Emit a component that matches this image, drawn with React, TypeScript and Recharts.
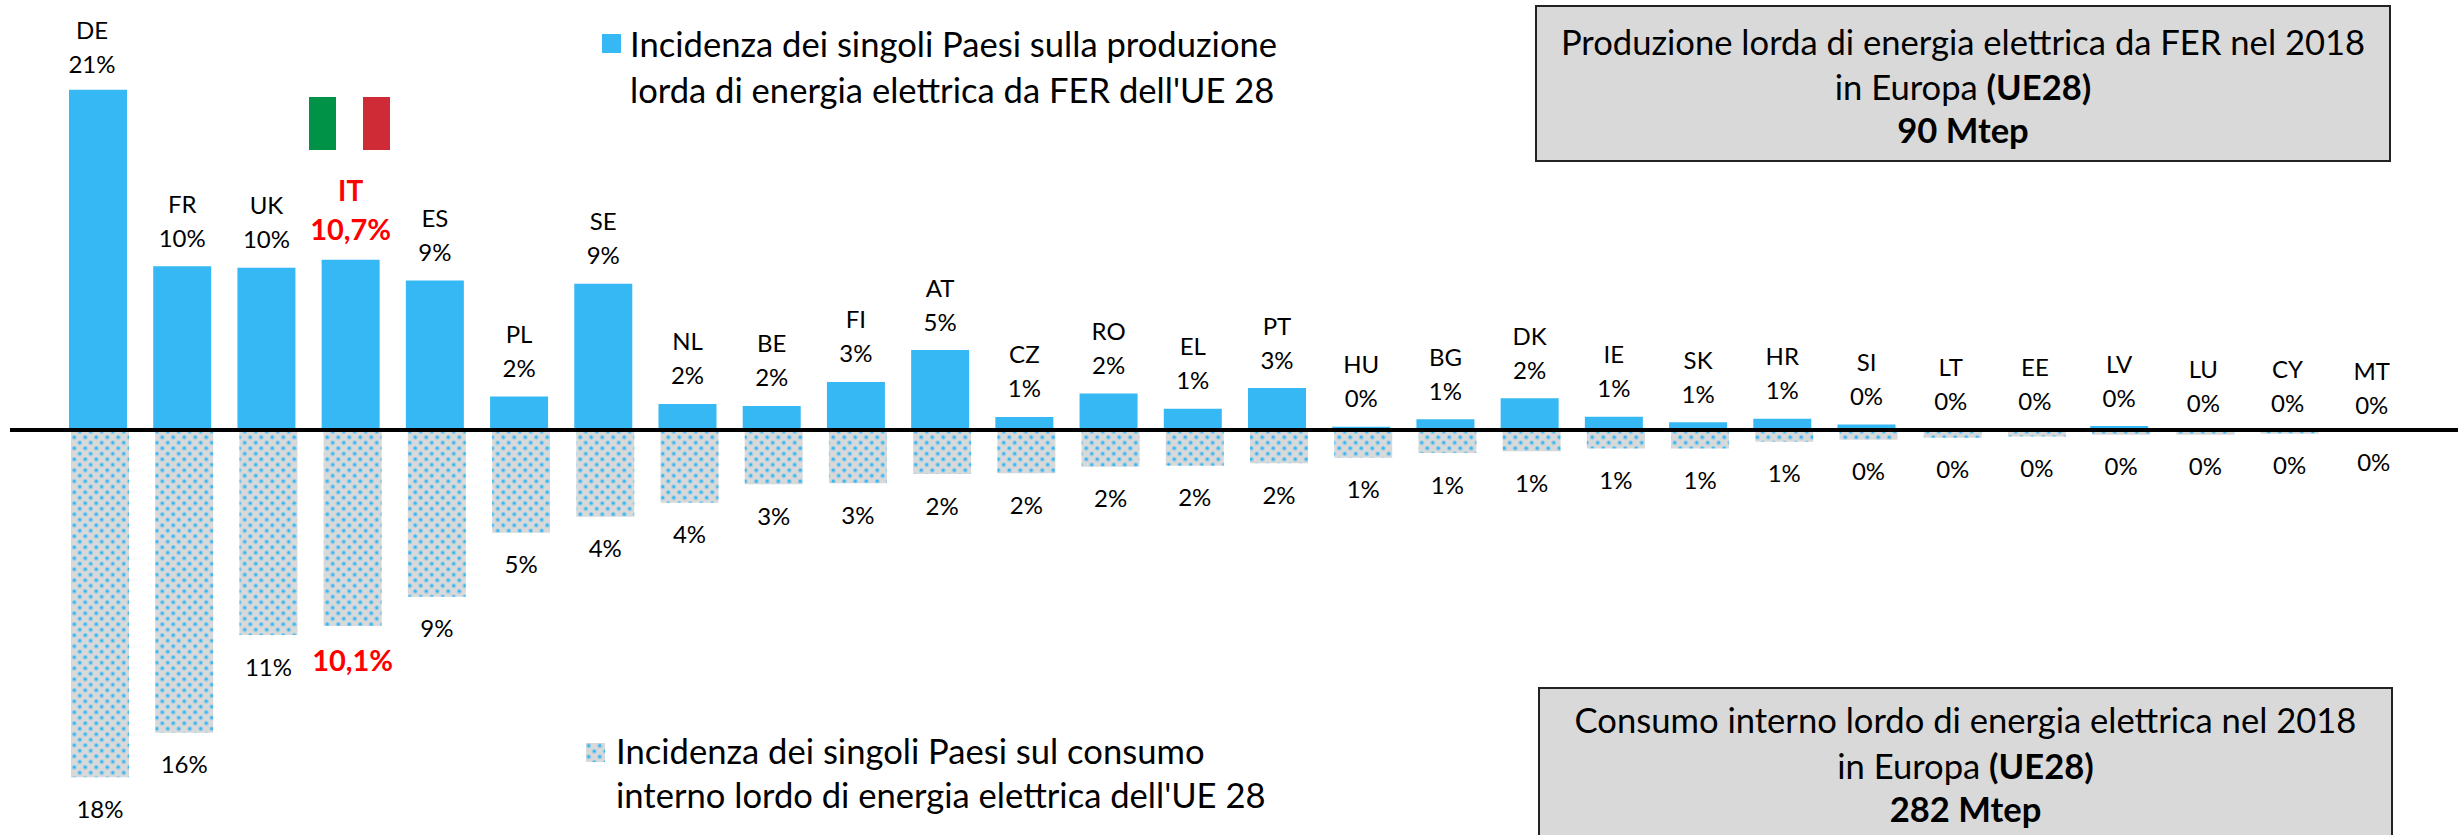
import React from 'react';
import { BarChart, Bar, XAxis, YAxis, ReferenceLine, LabelList } from 'recharts';

const countries = ['DE','FR','UK','IT','ES','PL','SE','NL','BE','FI','AT','CZ','RO','EL','PT','HU','BG','DK','IE','SK','HR','SI','LT','EE','LV','LU','CY','MT'];
const productionShare = [21.4,10.3,10.2,10.7,9.4,2.1,9.2,1.64,1.51,3.02,5.03,0.82,2.3,1.34,2.64,0.21,0.67,2.0,0.84,0.48,0.71,0.34,0.06,0.04,0.25,0.02,0.02,0.01];
const consumptionShare = [17.9,15.6,10.57,10.1,8.6,5.3,4.47,3.75,2.8,2.75,2.27,2.23,1.89,1.84,1.72,1.43,1.19,1.1,0.96,0.96,0.6,0.5,0.4,0.34,0.24,0.24,0.19,0.02];
const productionLabels = ['21%','10%','10%','10,7%','9%','2%','9%','2%','2%','3%','5%','1%','2%','1%','3%','0%','1%','2%','1%','1%','1%','0%','0%','0%','0%','0%','0%','0%'];
const consumptionLabels = ['18%','16%','11%','10,1%','9%','5%','4%','4%','3%','3%','2%','2%','2%','2%','2%','1%','1%','1%','1%','1%','1%','0%','0%','0%','0%','0%','0%','0%'];
const highlighted = 'IT';

const tableRows = countries.map((name, i) => ({
  name,
  production: productionShare[i],
  consumption: -consumptionShare[i],
  productionLabel: productionLabels[i],
  consumptionLabel: consumptionLabels[i],
}));

const FONT = 'Lato, Carlito, Calibri, sans-serif';
const W = 2458;
const H = 835;
const ZERO = 430;
const TOP_PX = 15.9;
const BOTTOM_PX = 19.4;
const BLUE = '#36b8f5';
const GREY = '#d9d9d9';
const LABEL_SIZE = 24;
const HI_SIZE = 29;
const PANEL_SIZE = 34.6;

// small hand placements that the source chart applied to a few labels
const labelNudge: Record<string, { dx: number; dy: number }> = {
  DE: { dx: -6, dy: 3 },
  LU: { dx: 0, dy: 2 },
  CY: { dx: 0, dy: 2 },
  MT: { dx: 0, dy: 4 },
};

const TopLabel = (props: any) => {
  const { x, y, width, index } = props;
  const row = tableRows[index];
  const hi = row.name === highlighted;
  const n = labelNudge[row.name] || { dx: 0, dy: 0 };
  const cx = x + width / 2 + n.dx;
  const top = Math.min(y, ZERO) + n.dy;
  const fill = hi ? '#ff0000' : '#000';
  return (
    <g fontFamily={FONT} textAnchor="middle" fill={fill} fontWeight={hi ? 700 : 400}>
      <text x={cx} y={top - (hi ? 70 : 63)} fontSize={hi ? HI_SIZE - 1 : LABEL_SIZE} dominantBaseline="central">{row.name}</text>
      <text x={cx} y={top - (hi ? 31 : 29)} fontSize={hi ? HI_SIZE : LABEL_SIZE} dominantBaseline="central">{row.productionLabel}</text>
    </g>
  );
};

const BottomLabel = (props: any) => {
  const { x, y, width, height, index } = props;
  const row = tableRows[index];
  const hi = row.name === highlighted;
  const cx = x + width / 2;
  const end = Math.max(y, y + height);
  return (
    <text x={cx} y={end + (hi ? 34 : 31)} fontFamily={FONT} fontSize={hi ? HI_SIZE : LABEL_SIZE} fontWeight={hi ? 700 : 400}
      fill={hi ? '#ff0000' : '#000'} textAnchor="middle" dominantBaseline="central">{row.consumptionLabel}</text>
  );
};

const DotPattern = ({ id }: { id: string }) => (
  <pattern id={id} width={11} height={11} patternUnits="userSpaceOnUse">
    <rect width={11} height={11} fill={GREY} />
    <circle cx={2.75} cy={2.75} r={2.6} fill={BLUE} opacity={0.3} />
    <circle cx={8.25} cy={8.25} r={2.6} fill={BLUE} opacity={0.3} />
    <circle cx={2.75} cy={2.75} r={1.4} fill={BLUE} />
    <circle cx={8.25} cy={8.25} r={1.4} fill={BLUE} />
  </pattern>
);

const boxText: React.CSSProperties = { position: 'absolute', left: 0, right: 0, textAlign: 'center', transform: 'translateY(-50%)', whiteSpace: 'nowrap', lineHeight: 1 };

const Box = ({ left, top, width, height, lines, tops }: any) => (
  <div style={{ position: 'absolute', left, top, width, height, background: GREY, border: '2px solid #222', boxSizing: 'border-box', fontFamily: FONT, fontSize: PANEL_SIZE, color: '#000' }}>
    {lines.map((l: any, i: number) => <div key={i} style={{ ...boxText, top: tops[i] - top - 2 }}>{l}</div>)}
  </div>
);

const Legend = ({ left, top, size, fill, textLeft, lines, tops }: any) => (
  <>
    <svg style={{ position: 'absolute', left, top, overflow: 'visible' }} width={size} height={size}>
      <defs><DotPattern id="dotsLegend" /></defs>
      <rect width={size} height={size} fill={fill} />
    </svg>
    {lines.map((l: string, i: number) => (
      <div key={i} style={{ position: 'absolute', left: textLeft, top: tops[i], transform: 'translateY(-50%)', fontFamily: FONT, fontSize: PANEL_SIZE, lineHeight: 1, whiteSpace: 'nowrap', color: '#000' }}>{l}</div>
    ))}
  </>
);

export default function App() {
  return (
    <div style={{ position: 'absolute', left: 0, top: 0, width: W, height: H, overflow: 'hidden', background: '#fff' }}>
      <BarChart width={W} height={H} data={tableRows} margin={{ top: 0, right: 0, bottom: 0, left: 10 }} barGap={0}>
        <defs><DotPattern id="dots" /></defs>
        <XAxis xAxisId="top" dataKey="name" hide padding={{ left: 46, right: 44 }} />
        <XAxis xAxisId="bottom" dataKey="name" hide padding={{ left: 48, right: 42 }} />
        <YAxis yAxisId="top" hide domain={[-(H - ZERO) / TOP_PX, ZERO / TOP_PX]} />
        <YAxis yAxisId="bottom" hide domain={[-(H - ZERO) / BOTTOM_PX, ZERO / BOTTOM_PX]} />
        <Bar dataKey="production" xAxisId="top" yAxisId="top" fill={BLUE} barSize={58} isAnimationActive={false}>
          <LabelList dataKey="productionLabel" content={TopLabel} />
        </Bar>
        <Bar dataKey="consumption" xAxisId="bottom" yAxisId="bottom" fill="url(#dots)" barSize={58} isAnimationActive={false}>
          <LabelList dataKey="consumptionLabel" content={BottomLabel} />
        </Bar>
        <ReferenceLine xAxisId="top" yAxisId="top" y={0} stroke="#000" strokeWidth={4} />
      </BarChart>

      <svg style={{ position: 'absolute', left: 309, top: 97 }} width={81} height={53}>
        <rect x={0} width={27} height={53} fill="#009246" />
        <rect x={27} width={27} height={53} fill="#fff" />
        <rect x={54} width={27} height={53} fill="#ce2b37" />
      </svg>

      <Legend left={602} top={34} size={19} fill={BLUE} textLeft={630} tops={[44, 90]}
        lines={['Incidenza dei singoli Paesi sulla produzione', "lorda di energia elettrica da FER dell'UE 28"]} />
      <Legend left={586} top={743} size={19} fill="url(#dotsLegend)" textLeft={616} tops={[751, 795]}
        lines={['Incidenza dei singoli Paesi sul consumo', "interno lordo di energia elettrica dell'UE 28"]} />

      <Box left={1535} top={5} width={856} height={157} tops={[42, 87, 130]}
        lines={['Produzione lorda di energia elettrica da FER nel 2018', <span>in Europa <b>(UE28)</b></span>, <b>90 Mtep</b>]} />
      <Box left={1538} top={687} width={855} height={170} tops={[720, 766, 809]}
        lines={['Consumo interno lordo di energia elettrica nel 2018', <span>in Europa <b>(UE28)</b></span>, <b>282 Mtep</b>]} />
    </div>
  );
}
